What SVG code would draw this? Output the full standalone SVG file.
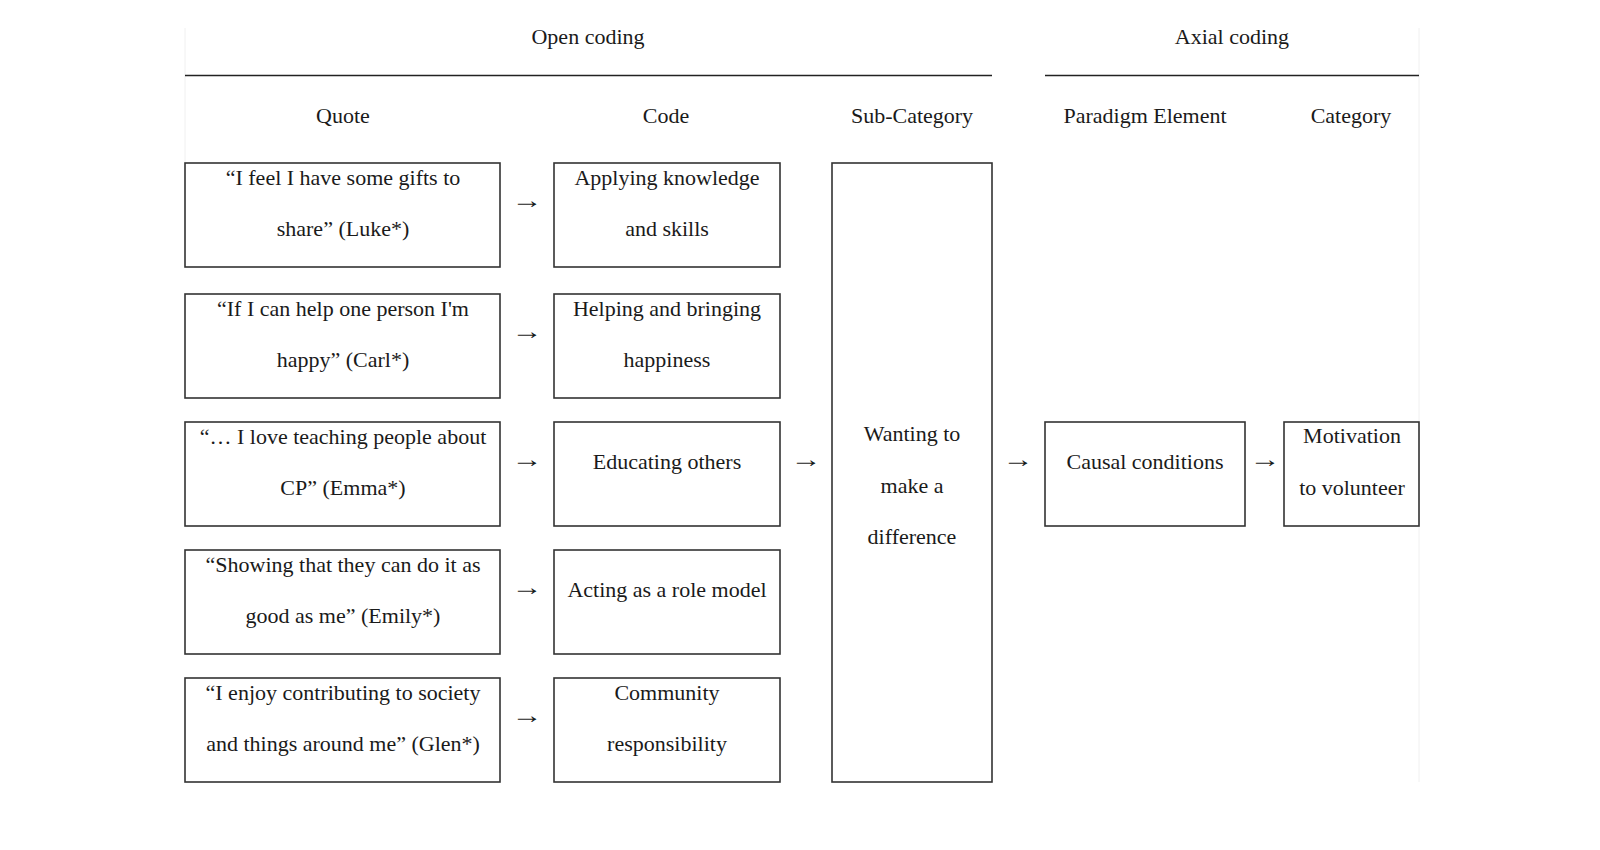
<svg xmlns="http://www.w3.org/2000/svg" width="1600" height="850" viewBox="0 0 1600 850">
<style>
text{font-family:"Liberation Serif","Times New Roman",serif;font-size:22px;fill:#1a1a1a;text-anchor:middle}
.arr{font-size:24px}
.box{fill:#fff;stroke:#333;stroke-width:1.6}
.rule{stroke:#222;stroke-width:1.5}
.faint{stroke:#f0f0f0;stroke-width:1}
</style>
<rect width="1600" height="850" fill="#fff"/>
<g id="frame">
<line class="faint" x1="185" y1="28" x2="185" y2="163"/>
<line class="faint" x1="1419" y1="28" x2="1419" y2="782"/>
<line class="rule" x1="185" y1="75.5" x2="992" y2="75.5"/>
<line class="rule" x1="1045" y1="75.5" x2="1419" y2="75.5"/>
<text x="588" y="44">Open coding</text>
<text x="1232" y="44">Axial coding</text>
<text x="343" y="123">Quote</text>
<text x="666" y="123">Code</text>
<text x="912" y="123">Sub-Category</text>
<text x="1145" y="123">Paradigm Element</text>
<text x="1351" y="123">Category</text>
</g>
<g id="quote1"><rect class="box" x="185" y="163" width="315" height="104"/><text x="343" y="185">“I feel I have some gifts to</text><text x="343" y="236">share” (Luke*)</text></g>
<g id="quote2"><rect class="box" x="185" y="294" width="315" height="104"/><text x="343" y="316">“If I can help one person I'm</text><text x="343" y="367">happy” (Carl*)</text></g>
<g id="quote3"><rect class="box" x="185" y="422" width="315" height="104"/><text x="343" y="444">“… I love teaching people about</text><text x="343" y="495">CP” (Emma*)</text></g>
<g id="quote4"><rect class="box" x="185" y="550" width="315" height="104"/><text x="343" y="572">“Showing that they can do it as</text><text x="343" y="623">good as me” (Emily*)</text></g>
<g id="quote5"><rect class="box" x="185" y="678" width="315" height="104"/><text x="343" y="700">“I enjoy contributing to society</text><text x="343" y="751">and things around me” (Glen*)</text></g>
<g id="code1"><rect class="box" x="554" y="163" width="226" height="104"/><text x="667" y="185">Applying knowledge</text><text x="667" y="236">and skills</text></g>
<g id="code2"><rect class="box" x="554" y="294" width="226" height="104"/><text x="667" y="316">Helping and bringing</text><text x="667" y="367">happiness</text></g>
<g id="code3"><rect class="box" x="554" y="422" width="226" height="104"/><text x="667" y="469">Educating others</text></g>
<g id="code4"><rect class="box" x="554" y="550" width="226" height="104"/><text x="667" y="597">Acting as a role model</text></g>
<g id="code5"><rect class="box" x="554" y="678" width="226" height="104"/><text x="667" y="700">Community</text><text x="667" y="751">responsibility</text></g>
<g id="subcategory"><rect class="box" x="832" y="163" width="160" height="619"/><text x="912" y="441">Wanting to</text><text x="912" y="493">make a</text><text x="912" y="544">difference</text></g>
<g id="paradigm"><rect class="box" x="1045" y="422" width="200" height="104"/><text x="1145" y="469">Causal conditions</text></g>
<g id="category"><rect class="box" x="1284" y="422" width="135" height="104"/><text x="1352" y="443">Motivation</text><text x="1352" y="495">to volunteer</text></g>
<g id="connectors">
<text class="arr" x="527" y="208" textLength="31" lengthAdjust="spacingAndGlyphs">→</text>
<text class="arr" x="527" y="339" textLength="31" lengthAdjust="spacingAndGlyphs">→</text>
<text class="arr" x="527" y="467" textLength="31" lengthAdjust="spacingAndGlyphs">→</text>
<text class="arr" x="527" y="595" textLength="31" lengthAdjust="spacingAndGlyphs">→</text>
<text class="arr" x="527" y="723" textLength="31" lengthAdjust="spacingAndGlyphs">→</text>
<text class="arr" x="806" y="467" textLength="31" lengthAdjust="spacingAndGlyphs">→</text>
<text class="arr" x="1018" y="467" textLength="31" lengthAdjust="spacingAndGlyphs">→</text>
<text class="arr" x="1265" y="467" textLength="31" lengthAdjust="spacingAndGlyphs">→</text>
</g>
</svg>
